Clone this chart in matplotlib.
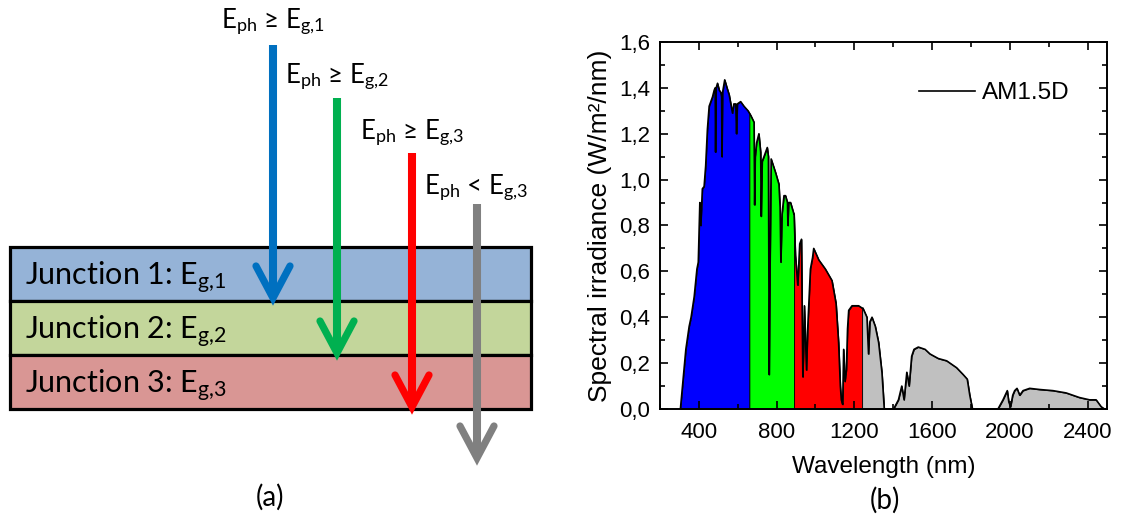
import matplotlib
matplotlib.use("Agg")
import matplotlib.pyplot as plt
from matplotlib.patches import Rectangle
from matplotlib.ticker import MultipleLocator, FuncFormatter
import numpy as np

# ---------------- data ----------------
# AM1.5D direct spectral irradiance (W/m^2/nm) vs wavelength (nm)
wavelength = [305, 320, 333, 345, 350, 360, 376, 390, 397, 405, 410, 418, 427, 435, 444,
              453, 470, 479, 484, 486, 489, 496, 505, 513, 517, 519, 522, 533, 545, 556,
              573, 580, 590, 594, 598, 615, 632, 653, 660, 667, 684, 687, 690, 697, 709,
              718, 721, 726, 735, 752, 758, 762, 766, 772, 795, 812, 818, 822, 828, 838,
              846, 856, 858, 862, 872, 889, 890, 897, 909, 919, 928, 935, 940, 943, 954,
              960, 966, 974, 985, 991, 1017, 1051, 1085, 1106, 1119, 1128, 1133, 1140, 1145, 1152,
              1159, 1165, 1171, 1188, 1205, 1222, 1240, 1244, 1265, 1273, 1280, 1291, 1308, 1325, 1342,
              1354, 1402, 1427, 1444, 1456, 1470, 1482, 1495, 1507, 1529, 1564, 1589, 1632, 1675, 1726,
              1760, 1781, 1794, 1808, 1939, 1965, 1987, 1995, 2004, 2015, 2025, 2037, 2051, 2068, 2102,
              2153, 2222, 2290, 2358, 2410, 2444, 2470, 2487]
irradiance = [0.00, 0.14, 0.26, 0.33, 0.36, 0.40, 0.49, 0.61, 0.64, 0.90, 0.80, 0.96, 0.97, 1.06, 1.22,
              1.32, 1.36, 1.39, 1.40, 1.12, 1.40, 1.42, 1.39, 1.38, 1.36, 1.10, 1.38, 1.435, 1.40, 1.37,
              1.29, 1.33, 1.33, 1.20, 1.33, 1.34, 1.32, 1.30, 1.29, 1.28, 1.25, 0.89, 1.10, 1.16, 1.20,
              1.12, 0.84, 1.08, 1.10, 1.14, 1.10, 0.15, 0.60, 1.09, 1.03, 0.98, 0.88, 0.64, 0.85, 0.93,
              0.93, 0.90, 0.80, 0.90, 0.90, 0.85, 0.85, 0.67, 0.54, 0.72, 0.74, 0.14, 0.30, 0.45, 0.17,
              0.35, 0.46, 0.61, 0.66, 0.70, 0.65, 0.61, 0.56, 0.46, 0.29, 0.10, 0.04, 0.02, 0.26, 0.12,
              0.17, 0.35, 0.43, 0.45, 0.45, 0.45, 0.44, 0.44, 0.40, 0.24, 0.38, 0.40, 0.36, 0.29, 0.16,
              0.00, 0.00, 0.04, 0.10, 0.04, 0.16, 0.10, 0.23, 0.26, 0.27, 0.26, 0.24, 0.22, 0.21, 0.18,
              0.15, 0.13, 0.06, 0.00, 0.00, 0.04, 0.08, 0.03, 0.01, 0.06, 0.08, 0.09, 0.06, 0.08, 0.09,
              0.085, 0.08, 0.07, 0.05, 0.04, 0.04, 0.01, 0.00]

# absorption bands of the three junctions (nm) and their colours
band_edges = [305, 660, 890, 1240, 2487]
band_colors = ["#0000FF", "#00FF00", "#FF0000", "#C0C0C0"]

x_ticks = [400, 800, 1200, 1600, 2000, 2400]
y_ticks = [0.0, 0.2, 0.4, 0.6, 0.8, 1.0, 1.2, 1.4, 1.6]

# layer stack (a)
junction_labels = ["Junction 1: E$_{\\mathrm{g{,}1}}$",
                   "Junction 2: E$_{\\mathrm{g{,}2}}$",
                   "Junction 3: E$_{\\mathrm{g{,}3}}$"]
junction_colors = ["#95B3D7", "#C3D69B", "#D99694"]
photon_labels = ["E$_{\\mathrm{ph}}$ \u2265 E$_{\\mathrm{g{,}1}}$",
                 "E$_{\\mathrm{ph}}$ \u2265 E$_{\\mathrm{g{,}2}}$",
                 "E$_{\\mathrm{ph}}$ \u2265 E$_{\\mathrm{g{,}3}}$",
                 "E$_{\\mathrm{ph}}$ < E$_{\\mathrm{g{,}3}}$"]
photon_colors = ["#0070C0", "#00B050", "#FF0000", "#808080"]

# ---------------- figure ----------------
plt.rcParams["mathtext.fontset"] = "custom"
plt.rcParams["mathtext.rm"] = "Lato"
plt.rcParams["mathtext.it"] = "Lato:italic"
plt.rcParams["mathtext.bf"] = "Lato:bold"

W, H = 1126, 520
fig = plt.figure(figsize=(W / 100, H / 100), dpi=100)

# ---- (a) schematic, drawn in pixel units ----
sk = fig.add_axes([0, 0, 1, 1])
sk.set_xlim(0, W)
sk.set_ylim(H, 0)
sk.axis("off")

stack_left, stack_right = 10, 531
layer_tops = [247, 301, 355]
layer_h = 54
for top, col, lab in zip(layer_tops, junction_colors, junction_labels):
    sk.add_patch(Rectangle((stack_left, top), stack_right - stack_left, layer_h,
                           facecolor=col, edgecolor="black", lw=2.3, zorder=1))
    sk.text(25, top + 38, lab, family=["Lato", "DejaVu Sans"], fontsize=22,
            ha="left", va="baseline", zorder=3)

arrow_x = [273, 337, 412, 477]
arrow_top = [45, 98, 153, 204]
arrow_tip = [298, 353, 407, 458]
text_pos = [(221, 28), (285, 83), (360, 139), (424, 194)]
head_w, head_h = 17, 32
for xa, yt, yp, col, lab, (tx, ty) in zip(arrow_x, arrow_top, arrow_tip,
                                           photon_colors, photon_labels, text_pos):
    sk.plot([xa, xa], [yt, yp - 6], color=col, lw=5.8, solid_capstyle="butt", zorder=2)
    sk.plot([xa - head_w, xa, xa + head_w], [yp - head_h, yp, yp - head_h], color=col,
            lw=5.2, solid_capstyle="round", solid_joinstyle="miter", zorder=2)
    sk.text(tx, ty, lab, family=["Lato", "DejaVu Sans"], fontsize=18.5,
            ha="left", va="baseline", zorder=3)

sk.text(270, 497, "(a)", family=["Lato", "DejaVu Sans"], fontsize=20, ha="center", va="center")
sk.text(885, 500, "(b)", family=["Lato", "DejaVu Sans"], fontsize=20, ha="center", va="center")

# ---- (b) spectrum ----
ax = fig.add_axes([660 / W, 1 - 409 / H, (1107 - 660) / W, (409 - 42) / H])
wl = np.array(wavelength)
ir = np.array(irradiance)
for lo, hi, col in zip(band_edges[:-1], band_edges[1:], band_colors):
    m = (wl >= lo) & (wl <= hi)
    ax.fill_between(wl[m], 0, ir[m], facecolor=col, edgecolor="black", lw=0.6, zorder=1)
ax.plot(wl, ir, color="black", lw=1.2, label="AM1.5D", zorder=2)

ax.set_xlim(200, 2500)
ax.set_ylim(0, 1.6)
ax.set_xticks(x_ticks)
ax.set_yticks(y_ticks)
ax.xaxis.set_minor_locator(MultipleLocator(200))
ax.yaxis.set_minor_locator(MultipleLocator(0.1))
ax.yaxis.set_major_formatter(FuncFormatter(lambda v, _: f"{v:.1f}".replace(".", ",")))
ax.tick_params(which="both", direction="in", top=True, right=True, width=1.2)
ax.tick_params(which="major", length=6, labelsize=16)
ax.tick_params(axis="x", which="major", pad=9)
ax.tick_params(axis="y", which="major", pad=7)
ax.tick_params(which="minor", length=3.5)
for lab in ax.get_xticklabels() + ax.get_yticklabels():
    lab.set_family(["Liberation Sans", "DejaVu Sans"])
for s in ax.spines.values():
    s.set_linewidth(1.4)
ax.set_xlabel("Wavelength (nm)", family=["Liberation Sans", "DejaVu Sans"], fontsize=17.5, labelpad=10)
ax.set_ylabel("Spectral irradiance (W/m\u00b2/nm)", family=["Liberation Sans", "DejaVu Sans"],
              fontsize=19, labelpad=5)
leg = ax.legend(loc="upper right", bbox_to_anchor=(0.965, 0.95), frameon=False,
                handlelength=2.3, handletextpad=0.3,
                prop={"family": ["Liberation Sans", "DejaVu Sans"], "size": 17.5})

fig.savefig("out.png", dpi=100)
